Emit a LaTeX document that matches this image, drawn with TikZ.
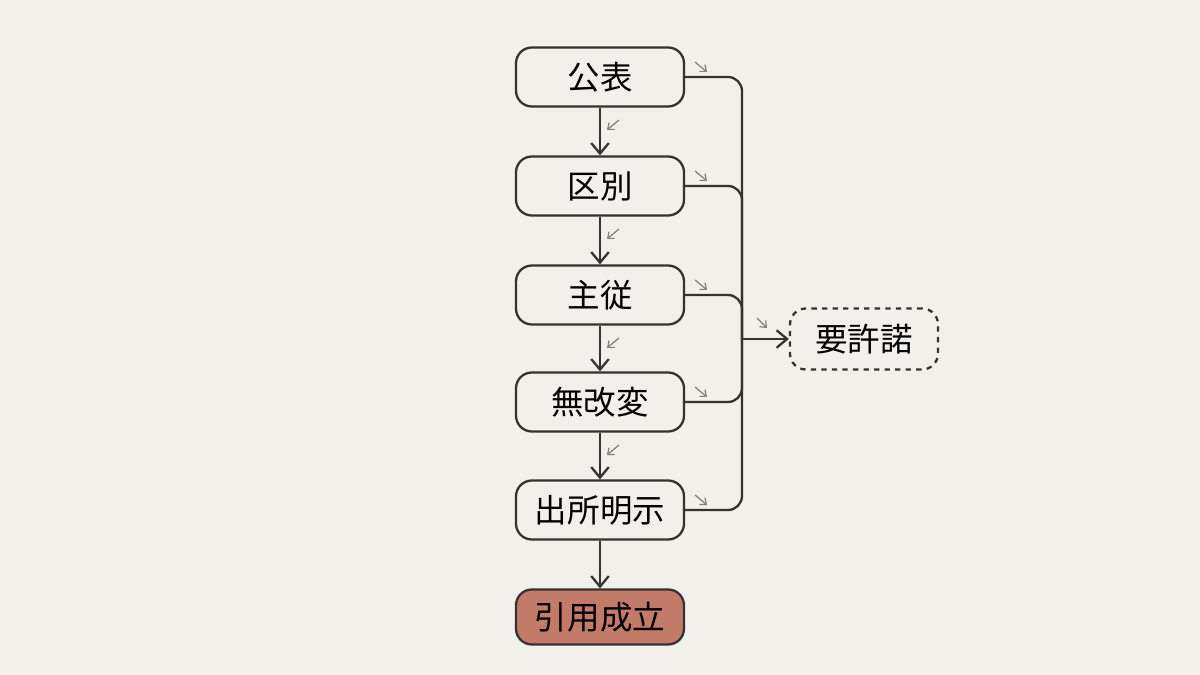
\documentclass[tikz,border=0pt]{standalone}
\usepackage{fontspec}
\newfontfamily\cjk{Noto Sans CJK JP}
\usetikzlibrary{arrows.meta}
\definecolor{bg}{HTML}{F2F0EB}
\definecolor{ln}{HTML}{333333}
\definecolor{acc}{HTML}{C27B68}
\begin{document}
\begin{tikzpicture}[x=0.02cm,y=-0.02cm,
 box/.style={draw=ln,line width=1.3pt,rounded corners=9pt,fill=bg,minimum width=3.36cm,minimum height=1.18cm,font=\cjk\fontsize{18.5}{22}\selectfont,text=black},
 conn/.style={draw=ln,line width=1.3pt},
 arr/.style={conn,-{Straight Barb[length=6pt,width=10pt]}},
 hint/.style={draw=gray,line width=0.7pt,-{Straight Barb[length=3pt,width=5pt]}}]
\fill[bg] (0,0) rectangle (1200,675);
\node[box] (a) at (600,77) {公表};
\node[box] (b) at (600,186) {区別};
\node[box] (c) at (600,295) {主従};
\node[box] (d) at (600,402) {無改変};
\node[box] (e) at (600,510) {出所明示};
\node[box,fill=acc,minimum height=1.1cm] (f) at (600,617) {引用成立};
\node[box,dashed,minimum width=2.96cm,minimum height=1.22cm] (r) at (864,339) {要許諾};
\coordinate (j) at (742,339);
\draw[arr] (a) -- (b);
\draw[arr] (b) -- (c);
\draw[arr] (c) -- (d);
\draw[arr] (d) -- (e);
\draw[arr] (e) -- (f);
\draw[conn,rounded corners=8pt] (a.east) -- (742,77) -- (j);
\draw[conn,rounded corners=8pt] (b.east) -- (742,186) -- (j);
\draw[conn,rounded corners=8pt] (c.east) -- (742,295) -- (j);
\draw[conn,rounded corners=8pt] (d.east) -- (742,402) -- (j);
\draw[conn,rounded corners=8pt] (e.east) -- (742,510) -- (j);
\draw[arr] (j) -- (r.west);
\foreach \y in {62,171,280,387,495} \draw[hint] (695,\y) -- (707,\y+10);
\foreach \y in {120,229,338,445} \draw[hint] (619,\y) -- (607,\y+10);
\draw[hint] (757,318) -- (767,328);
\end{tikzpicture}
\end{document}
